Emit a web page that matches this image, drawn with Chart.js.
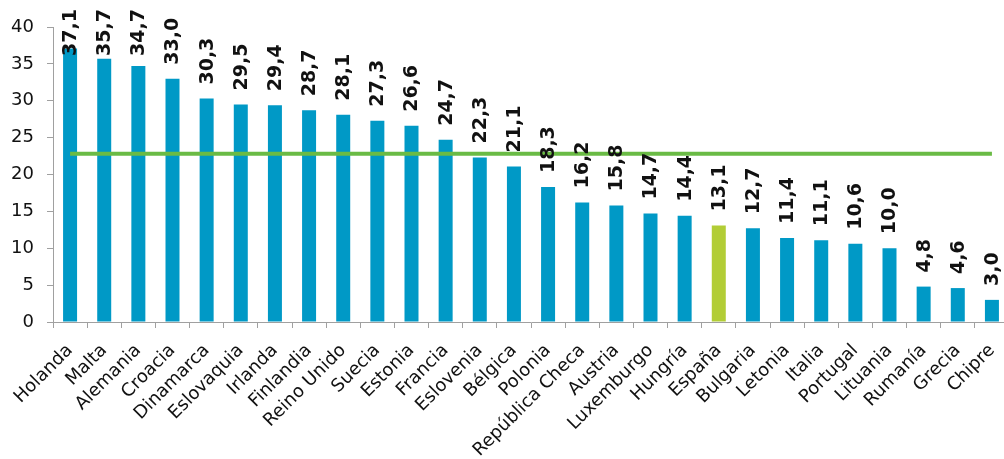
<!DOCTYPE html>
<html>
<head>
<meta charset="utf-8">
<script src="https://cdn.jsdelivr.net/npm/chart.js@4/dist/chart.umd.min.js"></script>
<style>
html,body{margin:0;padding:0;background:#fff;overflow:hidden;}
#wrap{width:1010px;height:459px;}
</style>
</head>
<body>
<div id="wrap"><canvas id="c" width="1010" height="459"></canvas></div>
<script>
const categories = ["Holanda","Malta","Alemania","Croacia","Dinamarca","Eslovaquia","Irlanda","Finlandia","Reino Unido","Suecia","Estonia","Francia","Eslovenia","Bélgica","Polonia","República Checa","Austria","Luxemburgo","Hungría","España","Bulgaria","Letonia","Italia","Portugal","Lituania","Rumanía","Grecia","Chipre"];
const values = [37.1,35.7,34.7,33.0,30.3,29.5,29.4,28.7,28.1,27.3,26.6,24.7,22.3,21.1,18.3,16.2,15.8,14.7,14.4,13.1,12.7,11.4,11.1,10.6,10.0,4.8,4.6,3.0];
const averageValue = 22.8;
const averageLine = categories.map(() => averageValue);
const highlighted = "España";
const yTicks = [0,5,10,15,20,25,30,35,40];

const BLUE = "#0099c6";
const GREEN_BAR = "#b2cd36";
const GREEN_LINE = "#6abb45";
const FONT = "'DejaVu Sans', Verdana, sans-serif";

const valueLabels = {
  id: "valueLabels",
  afterDraw(chart) {
    const meta = chart.getDatasetMeta(0);
    const ctx = chart.ctx;
    ctx.save();
    ctx.font = "bold 19px " + FONT;
    ctx.fillStyle = "#111";
    ctx.textAlign = "left";
    ctx.textBaseline = "middle";
    meta.data.forEach((bar, i) => {
      const txt = values[i].toFixed(1).replace(".", ",");
      const w = ctx.measureText(txt).width;
      let start = bar.y - 14;
      if (start - w < 9) start = 9 + w;
      ctx.save();
      ctx.translate(bar.x + 1, start);
      ctx.rotate(-Math.PI / 2);
      ctx.fillText(txt, 0, 0);
      ctx.restore();
    });
    ctx.restore();
  }
};

new Chart(document.getElementById("c"), {
  data: {
    labels: categories,
    datasets: [
      {
        type: "bar",
        data: values,
        backgroundColor: categories.map(c => c === highlighted ? GREEN_BAR : BLUE),
        borderWidth: 0,
        barPercentage: 0.41,
        categoryPercentage: 1.0,
        order: 2
      },
      {
        type: "line",
        data: averageLine,
        borderColor: GREEN_LINE,
        borderWidth: 4,
        pointRadius: 0,
        fill: false,
        order: 1
      }
    ]
  },
  options: {
    responsive: false,
    animation: false,
    devicePixelRatio: 1,
    layout: { padding: { top: 27, right: 1, left: 0, bottom: 0 } },
    plugins: { legend: { display: false }, tooltip: { enabled: false } },
    scales: {
      x: {
        offset: true,
        grid: { display: true, offset: true, drawOnChartArea: false, drawTicks: true, tickLength: 6, color: "#a0a0a0" },
        border: { display: true, color: "#a0a0a0", width: 1 },
        ticks: { autoSkip: false, maxRotation: 45, minRotation: 45, padding: 12, color: "#111", font: { family: FONT, size: 18 } },
        afterFit(scale) { scale.height = 137; scale.paddingLeft = 0; scale.paddingRight = 0; }
      },
      y: {
        min: 0, max: 40,
        afterBuildTicks(scale) { scale.ticks = yTicks.map(v => ({ value: v })); },
        grid: { display: true, drawOnChartArea: false, drawTicks: true, tickLength: 6, color: "#a0a0a0" },
        border: { display: true, color: "#a0a0a0", width: 1 },
        ticks: { padding: 13, color: "#111", font: { family: FONT, size: 18 } },
        afterFit(scale) { scale.width = 53; scale.paddingTop = 0; scale.paddingBottom = 0; }
      }
    }
  },
  plugins: [valueLabels]
});
</script>
</body>
</html>
